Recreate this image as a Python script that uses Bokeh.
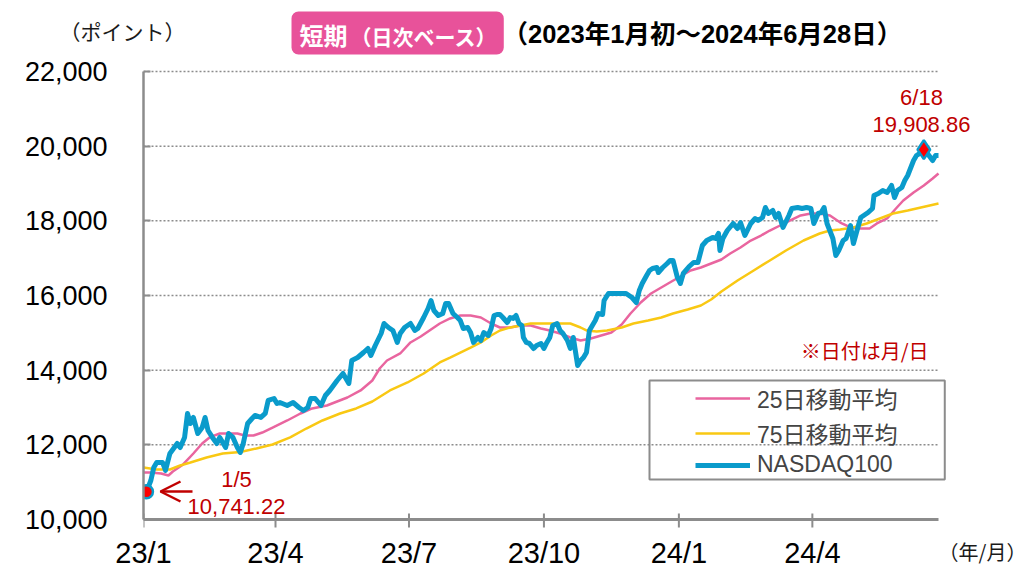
import pandas as pd
from bokeh.plotting import figure
from bokeh.layouts import column
from bokeh.models import (FixedTicker, NumeralTickFormatter, Label, Legend,
                          LegendItem, Arrow, OpenHead)
from bokeh.embed import file_html
from bokeh.resources import INLINE

# ---------------- data ----------------
ndx_dates = [
    "2023-01-03", "2023-01-05", "2023-01-08", "2023-01-10", "2023-01-12", "2023-01-16", "2023-01-18",
    "2023-01-21", "2023-01-26", "2023-01-28", "2023-01-31", "2023-02-02", "2023-02-04", "2023-02-06",
    "2023-02-09", "2023-02-12", "2023-02-14", "2023-02-16", "2023-02-19", "2023-02-22", "2023-02-24",
    "2023-02-28", "2023-03-02", "2023-03-05", "2023-03-08", "2023-03-10", "2023-03-12", "2023-03-15",
    "2023-03-18", "2023-03-20", "2023-03-24", "2023-03-27", "2023-03-29", "2023-04-02", "2023-04-04",
    "2023-04-06", "2023-04-11", "2023-04-15", "2023-04-19", "2023-04-22", "2023-04-25", "2023-04-27",
    "2023-04-30", "2023-05-04", "2023-05-07", "2023-05-10", "2023-05-15", "2023-05-19", "2023-05-23",
    "2023-05-25", "2023-05-29", "2023-06-02", "2023-06-05", "2023-06-07", "2023-06-10", "2023-06-14",
    "2023-06-16", "2023-06-19", "2023-06-22", "2023-06-25", "2023-06-27", "2023-06-30", "2023-07-04",
    "2023-07-07", "2023-07-09", "2023-07-13", "2023-07-16", "2023-07-18", "2023-07-20", "2023-07-23",
    "2023-07-26", "2023-07-28", "2023-07-30", "2023-08-02", "2023-08-05", "2023-08-07", "2023-08-09",
    "2023-08-12", "2023-08-14", "2023-08-16", "2023-08-19", "2023-08-21", "2023-08-23", "2023-08-26",
    "2023-08-28", "2023-08-30", "2023-09-01", "2023-09-03", "2023-09-05", "2023-09-08", "2023-09-10",
    "2023-09-12", "2023-09-14", "2023-09-16", "2023-09-18", "2023-09-19", "2023-09-21", "2023-09-23",
    "2023-09-26", "2023-09-28", "2023-10-01", "2023-10-03", "2023-10-05", "2023-10-07", "2023-10-09",
    "2023-10-12", "2023-10-14", "2023-10-16", "2023-10-19", "2023-10-21", "2023-10-23", "2023-10-26",
    "2023-10-28", "2023-10-30", "2023-11-01", "2023-11-03", "2023-11-05", "2023-11-07", "2023-11-09",
    "2023-11-12", "2023-11-13", "2023-11-16", "2023-11-19", "2023-11-24", "2023-11-28", "2023-12-02",
    "2023-12-05", "2023-12-07", "2023-12-09", "2023-12-12", "2023-12-14", "2023-12-16", "2023-12-19",
    "2023-12-20", "2023-12-23", "2023-12-26", "2023-12-28", "2023-12-30", "2024-01-02", "2024-01-04",
    "2024-01-06", "2024-01-10", "2024-01-13", "2024-01-16", "2024-01-19", "2024-01-22", "2024-01-26",
    "2024-01-28", "2024-01-30", "2024-01-31", "2024-02-02", "2024-02-05", "2024-02-09", "2024-02-12",
    "2024-02-14", "2024-02-17", "2024-02-21", "2024-02-24", "2024-02-26", "2024-02-29", "2024-03-02",
    "2024-03-04", "2024-03-07", "2024-03-09", "2024-03-11", "2024-03-14", "2024-03-18", "2024-03-20",
    "2024-03-24", "2024-03-27", "2024-03-30", "2024-04-02", "2024-04-04", "2024-04-07", "2024-04-09",
    "2024-04-11", "2024-04-13", "2024-04-17", "2024-04-19", "2024-04-21", "2024-04-24", "2024-04-26",
    "2024-04-29", "2024-05-01", "2024-05-04", "2024-05-06", "2024-05-11", "2024-05-14", "2024-05-15",
    "2024-05-18", "2024-05-21", "2024-05-24", "2024-05-27", "2024-05-29", "2024-05-31", "2024-06-03",
    "2024-06-05", "2024-06-07", "2024-06-11", "2024-06-13", "2024-06-15", "2024-06-18", "2024-06-20",
    "2024-06-24", "2024-06-26", "2024-06-28",
]
ndx_values = [
    10862, 10741, 11045, 11390, 11527, 11527, 11314,
    11768, 12036, 11929, 12198, 12841, 12572, 12733,
    12304, 12465, 12733, 12384, 12198, 12036, 12198,
    11929, 12304, 12198, 11929, 11795, 12036, 12572,
    12706, 12786, 12733, 12841, 13188, 13241, 13107,
    13134, 13054, 13134, 13000, 12920, 13000, 13241,
    13241, 13054, 13322, 13456, 13723, 13911, 13643,
    14259, 14339, 14473, 14581, 14393, 14661, 14982,
    15250, 15143, 15063, 14742, 14982, 15143, 15250,
    15063, 15116, 15410, 15652, 15866, 15598, 15464,
    15518, 15786, 15786, 15518, 15410, 15330, 15116,
    15143, 15009, 14742, 14875, 14795, 15009, 14929,
    15116, 15464, 15491, 15491, 15410, 15277, 15410,
    15384, 15464, 15250, 15197, 14875, 14742, 14715,
    14581, 14661, 14715, 14581, 14742, 14875, 15197,
    15250, 15063, 14982, 14795, 14581, 14875, 14125,
    14259, 14339, 14473, 15063, 15197, 15330, 15518,
    15491, 15866, 16054, 16054, 16054, 16054, 15946,
    15812, 16134, 16322, 16536, 16670, 16724, 16750,
    16616, 16750, 16857, 16938, 16938, 16482, 16322,
    16590, 16777, 16884, 16884, 17339, 17473, 17554,
    17527, 17661, 17205, 17527, 17741, 17929, 17795,
    17955, 17607, 17929, 18063, 18009, 18090, 18357,
    18197, 18277, 18090, 18197, 17822, 18143, 18330,
    18357, 18330, 18357, 18330, 17929, 18197, 18223,
    18357, 17929, 17527, 17071, 17205, 17473, 17527,
    17875, 17393, 17822, 18090, 18223, 18330, 18679,
    18732, 18813, 18759, 18947, 18625, 18813, 18893,
    19080, 19215, 19616, 19750, 19800, 19908.86, 19831,
    19616, 19750, 19750,
]

ma25_dates = [
    "2023-01-03", "2023-01-08", "2023-01-15", "2023-01-20", "2023-01-23", "2023-01-30", "2023-02-06",
    "2023-02-12", "2023-02-17", "2023-02-24", "2023-03-08", "2023-03-13", "2023-03-19", "2023-03-25",
    "2023-04-01", "2023-04-11", "2023-04-20", "2023-04-28", "2023-05-08", "2023-05-15", "2023-05-22",
    "2023-05-31", "2023-06-08", "2023-06-13", "2023-06-18", "2023-06-27", "2023-07-04", "2023-07-11",
    "2023-07-17", "2023-07-24", "2023-07-31", "2023-08-07", "2023-08-14", "2023-08-21", "2023-08-28",
    "2023-09-03", "2023-09-10", "2023-09-17", "2023-09-24", "2023-10-01", "2023-10-07", "2023-10-14",
    "2023-10-21", "2023-10-28", "2023-11-04", "2023-11-11", "2023-11-18", "2023-11-25", "2023-12-01",
    "2023-12-08", "2023-12-15", "2023-12-22", "2023-12-29", "2024-01-04", "2024-01-11", "2024-01-18",
    "2024-01-25", "2024-02-01", "2024-02-07", "2024-02-14", "2024-02-21", "2024-02-28", "2024-03-05",
    "2024-03-12", "2024-03-19", "2024-03-26", "2024-04-02", "2024-04-08", "2024-04-15", "2024-04-22",
    "2024-04-29", "2024-05-06", "2024-05-12", "2024-05-17", "2024-05-24", "2024-05-30", "2024-06-04",
    "2024-06-11", "2024-06-18", "2024-06-24", "2024-06-28",
]
ma25_values = [
    11259, 11259, 11232, 11179, 11286, 11474, 11768,
    12036, 12198, 12304, 12304, 12250, 12250, 12330,
    12464, 12652, 12839, 12974, 13054, 13161, 13268,
    13456, 13723, 14045, 14259, 14447, 14742, 14902,
    15063, 15250, 15384, 15464, 15464, 15411, 15250,
    15143, 15143, 15197, 15197, 15116, 15063, 14982,
    14875, 14795, 14848, 14929, 15009, 15223, 15518,
    15812, 16054, 16215, 16375, 16509, 16670, 16750,
    16857, 16964, 17125, 17286, 17473, 17607, 17741,
    17875, 18009, 18143, 18197, 18197, 18143, 17955,
    17822, 17795, 17795, 17929, 18063, 18330, 18545,
    18759, 18947, 19134, 19268,
]

ma75_dates = [
    "2023-01-03", "2023-01-12", "2023-01-21", "2023-01-28", "2023-02-04", "2023-02-15", "2023-02-26",
    "2023-03-10", "2023-03-21", "2023-04-01", "2023-04-13", "2023-04-24", "2023-05-05", "2023-05-17",
    "2023-05-28", "2023-06-08", "2023-06-20", "2023-07-02", "2023-07-13", "2023-07-24", "2023-07-31",
    "2023-08-07", "2023-08-14", "2023-08-21", "2023-08-28", "2023-09-03", "2023-09-10", "2023-09-17",
    "2023-09-24", "2023-10-01", "2023-10-14", "2023-10-21", "2023-10-28", "2023-11-01", "2023-11-08",
    "2023-11-15", "2023-11-25", "2023-12-03", "2023-12-13", "2023-12-22", "2023-12-30", "2024-01-09",
    "2024-01-18", "2024-01-25", "2024-02-01", "2024-02-12", "2024-02-23", "2024-03-05", "2024-03-16",
    "2024-03-28", "2024-04-08", "2024-04-15", "2024-04-22", "2024-05-01", "2024-05-10", "2024-05-19",
    "2024-05-28", "2024-06-07", "2024-06-16", "2024-06-28",
]
ma75_values = [
    11395, 11340, 11340, 11447, 11527, 11661, 11768,
    11808, 11902, 12009, 12198, 12437, 12652, 12839,
    12974, 13161, 13456, 13670, 13911, 14206, 14339,
    14473, 14607, 14742, 14929, 15063, 15143, 15197,
    15250, 15250, 15250, 15250, 15143, 15063, 15036,
    15063, 15143, 15250, 15330, 15411, 15518, 15625,
    15732, 15893, 16107, 16402, 16670, 16938, 17205,
    17473, 17661, 17741, 17768, 17822, 17929, 18063,
    18197, 18277, 18357, 18465,
]

low_date, low_value, low_text = ["2023-01-05"], [10741.22], ["1/5", "10,741.22"]
high_date, high_value, high_text = ["2024-06-18"], [19908.86], ["6/18", "19,908.86"]

tick_dates = ["2023-01-03", "2023-04-03", "2023-07-03", "2023-10-03", "2024-01-03", "2024-04-03"]
tick_labels = ["23/1", "23/4", "23/7", "23/10", "24/1", "24/4"]
y_ticks = [10000, 12000, 14000, 16000, 18000, 20000, 22000]
legend_labels = ["25日移動平均", "75日移動平均", "NASDAQ100"]
header_texts = ["（ポイント）", "短期", "（日次ベース）", "（2023年1月初～2024年6月28日）"]
unit_x_text = "（年/月）"
note_text = "※日付は月/日"

# ---------------- styling / layout ----------------
BLUE = "#0A9BCB"
PINK = "#E9659F"
YELLOW = "#F9C813"
RED = "#C00000"
GREY = "#8C8C8C"
BADGE = "#E8529A"
LATIN = "Liberation Sans"
JP = "Liberation Sans, Noto Sans CJK JP"
CJK = "Noto Sans CJK JP"

W = 1030
HEAD_H = 55
MAIN_H = 531
# page geometry of the plotting area (pixels)
FR_L, FR_R, FR_T, FR_B = 143, W, 64, 572
AX_L, AX_R, AX_T, AX_B = 143, 938, 71, 519      # where the axes / data area sit

ts = lambda lst: pd.to_datetime(pd.Series(lst))
x_lo, x_hi = pd.Timestamp(ndx_dates[0]), pd.Timestamp(ndx_dates[-1])
per_px_x = (x_hi - x_lo) / (AX_R - AX_L)
x_end = x_lo + per_px_x * (FR_R - AX_L)
y_lo, y_hi = y_ticks[0], y_ticks[-1]
upp = (y_hi - y_lo) / (AX_B - AX_T)               # data units per pixel
y_start = y_lo - upp * (FR_B - AX_B)
y_stop = y_hi + upp * (AX_T - FR_T)

# ---------- header ----------
hdr = figure(width=W, height=HEAD_H, x_range=(0, W), y_range=(HEAD_H, 0),
             output_backend="svg", toolbar_location=None, min_border=0,
             x_axis_location=None, y_axis_location=None)
hdr.grid.visible = False
hdr.outline_line_color = None

def htext(txt, x, y, size, color="black", font=CJK, align="left", style="normal"):
    hdr.add_layout(Label(x=x, y=y, text=txt, text_font=font, text_font_size=f"{size}px",
                         text_color=color, text_align=align, text_baseline="middle",
                         text_font_style=style))

# badge box (pink, rounded)
hdr.add_layout(Label(x=291, y=54, text=" ", text_font_size="1px", text_baseline="bottom",
                     background_fill_color=BADGE, border_radius=7,
                     padding=dict(left=1, right=211, top=41, bottom=1)))
htext(header_texts[0], 122, 30, 21, color="#1a1a1a", align="center")
htext(header_texts[1], 299, 34, 24, color="white", style="bold")
htext(header_texts[2], 350, 35, 21, color="white", style="bold")
htext(header_texts[3], 502, 33, 25.5, color="black", font=JP, style="bold")

# ---------- main plot ----------
p = figure(width=W, height=MAIN_H, x_axis_type="datetime",
           x_range=(x_lo, x_end), y_range=(y_start, y_stop),
           output_backend="svg", toolbar_location=None,
           min_border_left=FR_L, min_border_right=W - FR_R,
           min_border_top=FR_T - HEAD_H, min_border_bottom=HEAD_H + MAIN_H - FR_B)
p.outline_line_color = None
p.xgrid.visible = False
p.ygrid.visible = False

# keep each figure's frame where it is set (no frame alignment in the column)
for fig in (hdr, p):
    try:
        fig.frame_align = False
    except Exception:
        pass

# x axis: real axis for the tick labels; baseline and tick marks drawn at y = 10000
tick_ms = [int(pd.Timestamp(d).value // 10**6) for d in tick_dates]
p.xaxis.ticker = FixedTicker(ticks=tick_ms)
p.xaxis.major_label_overrides = {m: lab for m, lab in zip(tick_ms, tick_labels)}
p.xaxis.axis_line_color = None
p.xaxis.major_tick_line_color = None
p.xaxis.minor_tick_line_color = None
p.xaxis.major_tick_in = 0
p.xaxis.major_tick_out = 0
p.xaxis.major_label_text_font = "Liberation Sans Narrow, Liberation Sans"
p.xaxis.major_label_text_font_size = "29px"
p.xaxis.major_label_text_color = "black"
p.xaxis.major_label_standoff = 536 - FR_B

p.yaxis.ticker = FixedTicker(ticks=y_ticks)
p.yaxis.bounds = (y_lo, y_hi)
p.yaxis.formatter = NumeralTickFormatter(format="0,0")
p.yaxis.axis_line_color = GREY
p.yaxis.axis_line_width = 2.5
p.yaxis.major_tick_line_color = GREY
p.yaxis.major_tick_line_width = 2
p.yaxis.major_tick_in = 7
p.yaxis.major_tick_out = 0
p.yaxis.minor_tick_line_color = None
p.yaxis.major_label_text_font = LATIN
p.yaxis.major_label_text_font_size = "27px"
p.yaxis.major_label_text_color = "black"
p.yaxis.major_label_standoff = 36

# dotted horizontal grid (only over the data span)
gy = y_ticks[1:]
p.segment(x0=[x_lo] * len(gy), x1=[x_hi] * len(gy), y0=gy, y1=gy,
          line_color=GREY, line_width=1.5, line_dash="2 2")
# x baseline and tick marks
p.segment(x0=[x_lo], x1=[x_hi], y0=[y_lo], y1=[y_lo], line_color=GREY, line_width=3)
tx = ts(tick_dates)
p.segment(x0=tx, x1=tx, y0=[y_lo + 6 * upp] * len(tx), y1=[y_lo - 8 * upp] * len(tx),
          line_color=GREY, line_width=2)

r25 = p.line(ts(ma25_dates), ma25_values, line_color=PINK, line_width=2.5)
r75 = p.line(ts(ma75_dates), ma75_values, line_color=YELLOW, line_width=2.5)
rnd = p.line(ts(ndx_dates), ndx_values, line_color=BLUE, line_width=5, line_join="round")

p.scatter(ts(low_date), low_value, marker="circle", size=13, fill_color="#FF0000",
          line_color=BLUE, line_width=2.5)
p.scatter(ts(high_date), high_value, marker="diamond", size=19, fill_color="#FF0000",
          line_color=BLUE, line_width=2.5)

# frame-relative screen units: x from frame left, y up from frame bottom
def S(px, py):
    return px - FR_L, FR_B - py

def add_text(txt, px, py, size, color="black", font=JP, align="center", style="normal"):
    sx, sy = S(px, py)
    p.add_layout(Label(x=sx, y=sy, x_units="screen", y_units="screen", text=txt,
                       text_font=font, text_font_size=f"{size}px", text_color=color,
                       text_align=align, text_baseline="middle", text_font_style=style))

# legend box
bx, by = S(648, 480)
p.add_layout(Label(x=bx + 1, y=by + 1, x_units="screen", y_units="screen", text=" ",
                   text_font_size="1px", border_line_color=GREY, border_line_width=2,
                   padding=dict(left=1, right=294, top=97, bottom=1)))

legend = Legend(items=[LegendItem(label=legend_labels[0], renderers=[r25]),
                       LegendItem(label=legend_labels[1], renderers=[r75]),
                       LegendItem(label=legend_labels[2], renderers=[rnd])],
                location=S(695, 478), margin=0, padding=0, spacing=1,
                glyph_width=55, glyph_height=26, label_height=26, label_standoff=7,
                label_text_font=JP, label_text_font_size="23px",
                border_line_alpha=0, background_fill_alpha=0)
p.add_layout(legend)

add_text(unit_x_text, 982, 551, 20, color="#1a1a1a", font=CJK)
add_text(high_text[0], 921, 97, 22, color=RED, font=LATIN)
add_text(high_text[1], 921, 124, 22, color=RED, font=LATIN)
add_text(low_text[0], 236, 479, 22, color=RED, font=LATIN)
add_text(low_text[1], 236, 506, 22, color=RED, font=LATIN)
add_text(note_text, 928, 350, 20, color=RED, font=CJK, align="right")

ax0, ay0 = S(192, 491)
ax1, ay1 = S(160, 491)
p.add_layout(Arrow(x_start=ax0, y_start=ay0, x_end=ax1, y_end=ay1,
                   start_units="screen", end_units="screen",
                   line_color=RED, line_width=2.5,
                   end=OpenHead(size=20, line_color=RED, line_width=2.5)))

layout = column(hdr, p, spacing=0)
open("out.html", "w").write(file_html(layout, INLINE))
